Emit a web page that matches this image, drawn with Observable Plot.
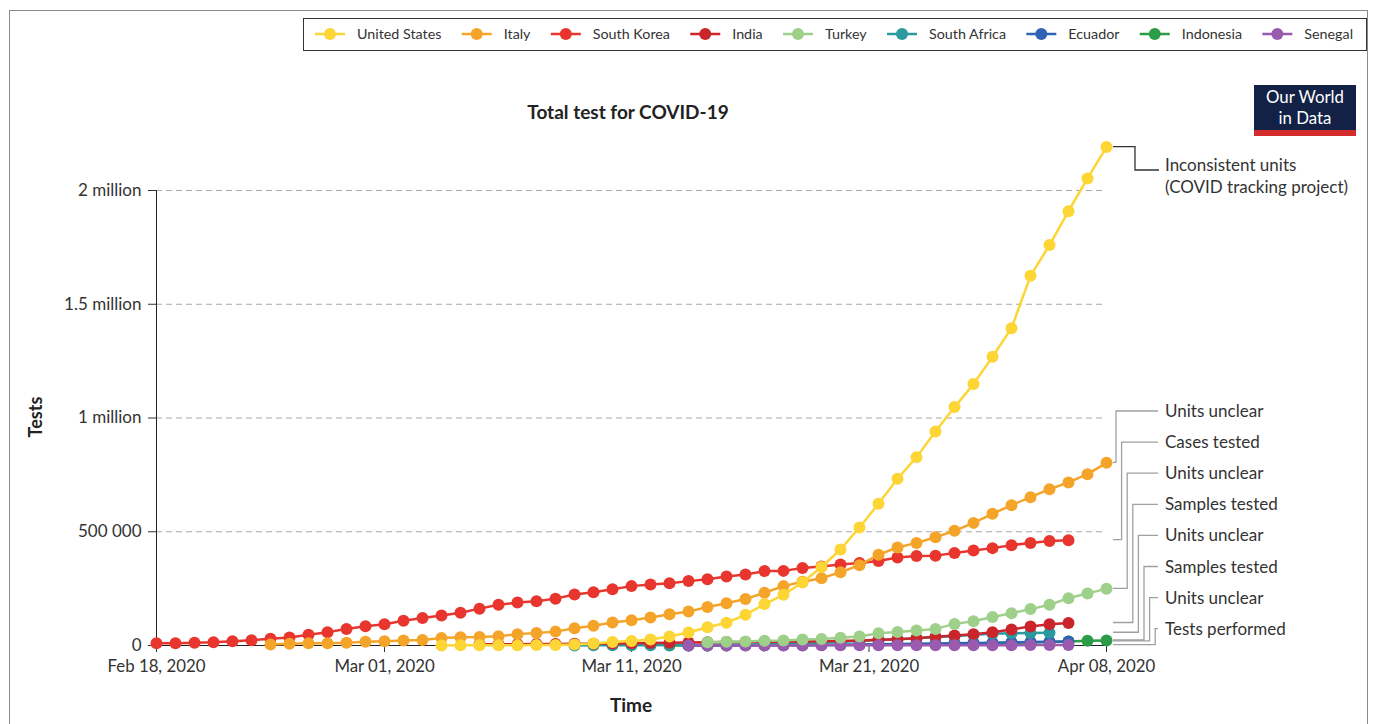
<!DOCTYPE html>
<html><head><meta charset="utf-8">
<script src="https://cdn.jsdelivr.net/npm/d3@7"></script>
<script src="https://cdn.jsdelivr.net/npm/@observablehq/plot@0.6"></script>
<style>
html,body{margin:0;padding:0;background:#fff;}
#chart{position:relative;width:1376px;height:724px;overflow:hidden;}
</style></head><body><div id="chart"></div>
<script>
// ---------- DATA ----------
const countries = ["United States","Italy","South Korea","India","Turkey","South Africa","Ecuador","Indonesia","Senegal"];
const colors = ["#FDD535","#F5A42A","#E8362F","#CB252C","#9ED08A","#2A9A9E","#2F63B4","#2C9C48","#9A5BAF"];
// first day index (0 = Feb 18, 2020) of each series
const seriesStart = [15, 6, 0, 17, 29, 22, 28, 27, 28];

const usTests = [500,600,800,1000,1500,2000,2500,4000,9000,15000,20000,26000,40000,57000,80000,100000,135000,182000,223000,277000,345000,422000,519000,623000,733000,828000,941000,1048000,1149000,1269000,1395000,1625000,1760000,1909000,2053000,2191000];
const italyTests = [4400,7300,9600,10000,12000,17000,19000,22000,24000,33000,36000,37000,41000,50000,55000,61000,76000,87000,101000,111000,123000,137000,149000,169000,186000,204000,232000,261000,280000,296000,322000,353000,399000,431000,451000,476000,504000,539000,579000,617000,652000,687000,717000,753000,803000];
const koreaTests = [10000,10000,12000,14500,19000,23000,29500,35000,47000,58500,73000,85000,93000,109000,121000,132000,144000,162000,179000,189000,195000,206000,224000,234000,247000,261000,268000,274000,283000,291000,303000,312000,327000,328000,341000,347000,356000,363000,371000,387000,393000,395000,407000,418000,428000,441000,451000,459000,463000];
const indiaTests = [5000,5500,6000,6500,7000,7500,8000,9000,10000,11000,12000,13000,14000,15000,15500,16000,17000,18000,19000,20000,22000,25000,28000,32000,38000,44000,50000,58000,70000,84000,93000,99000];
const turkeyTests = [14500,17000,18000,20500,22000,26000,29000,34000,40000,54000,59000,66000,73000,95000,107000,125000,142000,160000,179000,208000,229000,249000];
const southAfricaTests = [500,600,800,1000,1400,2000,2400,3000,4000,4800,6000,8000,10000,13000,16000,20000,24000,28000,32000,37000,41000,47000,52000,54000,55000,56000];
const ecuadorTests = [300,500,700,1000,1300,1700,2200,2800,3500,4300,5200,6200,7300,8500,9800,11000,12500,14000,15500,17000,18000];
const indonesiaTests = [100,200,300,450,600,800,1000,1300,1700,2200,2800,3500,4300,5200,6200,7300,8600,10000,11500,13000,15000,17500,21000,22000];
const senegalTests = [100,150,200,250,300,400,500,600,700,800,900,1000,1100,1200,1300,1400,1500,1600,1700,1800,1900];

const yTicks = [0, 500000, 1000000, 1500000, 2000000];
const yTickLabels = ["0", "500 000", "1 million", "1.5 million", "2 million"];
const xTickDays = [0, 12, 25, 37.5, 50];
const xTickLabels = ["Feb 18, 2020", "Mar 01, 2020", "Mar 11, 2020", "Mar 21, 2020", "Apr 08, 2020"];

const usNote = ["Inconsistent units", "(COVID tracking project)"];
const noteSeries = ["Italy","South Korea","Turkey","India","South Africa","Indonesia","Ecuador","Senegal"];
const noteLabels = ["Units unclear","Cases tested","Units unclear","Samples tested","Units unclear","Samples tested","Units unclear","Tests performed"];

const titleText = "Total test for COVID-19";
const yLabel = "Tests";
const xLabel = "Time";
const logoLines = ["Our World", "in Data"];

// ---------- BUILD ----------
const seriesValues = [usTests, italyTests, koreaTests, indiaTests, turkeyTests, southAfricaTests, ecuadorTests, indonesiaTests, senegalTests];
const rows = countries.flatMap((c, k) => seriesValues[k].map((v, j) => ({country: c, day: seriesStart[k] + j, value: v})));
const drawOrder = ["Indonesia","Ecuador","South Africa","India","Senegal","Turkey","South Korea","Italy","United States"];

const FONT = "Lato, 'Open Sans', sans-serif";
const TXT = "#333";

const plot = Plot.plot({
  width: 1376, height: 724,
  marginLeft: 156, marginRight: 270, marginTop: 190, marginBottom: 79,
  style: {fontFamily: FONT, fontSize: "17px", color: TXT, background: "transparent"},
  x: {domain: [0, 50], label: null},
  y: {domain: [0, 2000000], label: null},
  color: {domain: countries, range: colors},
  marks: [
    Plot.ruleY(yTicks.filter(d => d > 0), {stroke: "#a8a8a8", strokeDasharray: "6,4", strokeWidth: 1}),
    Plot.ruleY([0], {stroke: "#222", strokeWidth: 1}),
    Plot.ruleX([0], {stroke: "#222", strokeWidth: 1}),
    Plot.axisY({ticks: yTicks, tickFormat: d => yTickLabels[yTicks.indexOf(d)], tickSize: 8, tickPadding: 7, fontSize: 17, stroke: "#333", label: null}),
    Plot.axisX({ticks: xTickDays, tickFormat: d => xTickLabels[xTickDays.indexOf(d)], tickSize: 7, tickPadding: 8, fontSize: 16.8, stroke: "#333", label: null}),
    ...drawOrder.flatMap(c => {
      const d = rows.filter(r => r.country === c);
      return [
        Plot.line(d, {x: "day", y: "value", stroke: "country", strokeWidth: 2.5}),
        Plot.dot(d, {x: "day", y: "value", fill: "country", r: 6})
      ];
    })
  ]
});
document.getElementById("chart").appendChild(plot);

const svg = d3.select(plot);
const xs = plot.scale("x"), ys = plot.scale("y");
const X = v => xs.apply(v), Y = v => ys.apply(v);

const txt = (sel, x, y, s, size, opts = {}) => sel.append("text").attr("x", x).attr("y", y)
  .attr("text-anchor", opts.anchor || "start").attr("font-family", FONT).attr("font-size", size)
  .attr("font-weight", opts.weight || "normal").attr("fill", opts.fill || TXT).text(s);

// outer frame
svg.insert("rect", ":first-child").attr("x", 9.5).attr("y", 10.5).attr("width", 1358).attr("height", 760)
  .attr("fill", "none").attr("stroke", "#8a8a8a").attr("stroke-width", 1);

// title
txt(svg, 628, 119, titleText, 19, {anchor: "middle", weight: "bold", fill: "#222"});

// axis labels
svg.append("text").attr("transform", "translate(42,417) rotate(-90)").attr("text-anchor", "middle")
  .attr("font-family", FONT).attr("font-weight", "bold").attr("font-size", 18).attr("fill", "#222").text(yLabel);
txt(svg, 631, 712, xLabel, 19, {anchor: "middle", weight: "bold", fill: "#222"});

// legend
const lg = svg.append("g");
lg.append("rect").attr("x", 303.5).attr("y", 18.5).attr("width", 1063).attr("height", 32)
  .attr("fill", "#fff").attr("stroke", "#333").attr("stroke-width", 1);
let cx = 330;
countries.forEach((c, k) => {
  lg.append("line").attr("x1", cx - 15).attr("x2", cx + 15).attr("y1", 34).attr("y2", 34)
    .attr("stroke", colors[k]).attr("stroke-width", 2.5);
  lg.append("circle").attr("cx", cx).attr("cy", 34).attr("r", 6).attr("fill", colors[k]);
  const t = txt(lg, cx + 27, 39, c, 14.3);
  cx = cx + 27 + t.node().getComputedTextLength() + 35.3;
});

// logo
const logo = svg.append("g");
logo.append("rect").attr("x", 1254).attr("y", 85).attr("width", 102).attr("height", 50).attr("fill", "#132147");
logo.append("rect").attr("x", 1254).attr("y", 130).attr("width", 102).attr("height", 6).attr("fill", "#d42c2c");
logoLines.forEach((s, i) => txt(logo, 1305, 103 + i * 21, s, 16.8, {anchor: "middle", fill: "#fff"}));

// annotations
const ann = svg.append("g").attr("fill", "none");
const usEnd = usTests[usTests.length - 1];
const usLast = seriesStart[0] + usTests.length - 1;
ann.append("path").attr("d", `M${X(usLast) + 7},${Y(usEnd)}H1135V170H1159`).attr("stroke", "#333").attr("stroke-width", 1.3);
usNote.forEach((s, i) => txt(svg, 1165, 171 + i * 22, s, 17));

noteSeries.forEach((c, k) => {
  const idx = countries.indexOf(c);
  const vals = seriesValues[idx];
  const yEnd = Y(vals[vals.length - 1]);
  const yLab = 411 + k * 31.1;
  const xe = 1116 + k * 5.6;
  ann.append("path").attr("d", `M${X(50) + 7},${yEnd}H${xe}V${yLab}H1158`).attr("stroke", "#a0a0a0").attr("stroke-width", 1.3);
  txt(svg, 1165, yLab + 6, noteLabels[k], 17);
});
</script></body></html>
